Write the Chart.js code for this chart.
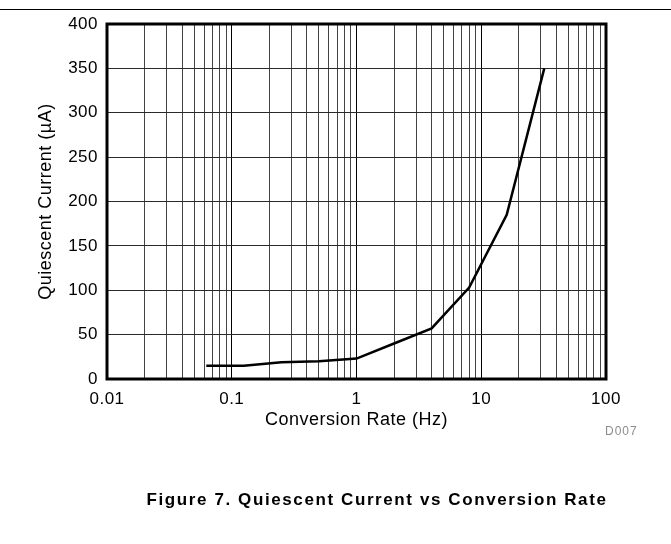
<!DOCTYPE html>
<html>
<head>
<meta charset="utf-8">
<script src="https://cdn.jsdelivr.net/npm/chart.js@4.4.0/dist/chart.umd.js"></script>
<style>
  body { margin: 0; background: #fff; }
  #wrap { position: relative; width: 671px; height: 544px; overflow: hidden; font-family: "Liberation Sans", Arial, sans-serif; }
  #topline { position: absolute; left: 0; top: 9px; width: 671px; height: 1px; background: #000; }
  #chart { position: absolute; left: 0; top: 0; }
  #code { position: absolute; left: 605px; top: 424px; font-size: 12px; letter-spacing: 1px; color: #8c8c8c; }
  #caption { position: absolute; left: 0; width: 754px; top: 490px; text-align: center; font-size: 17px; font-weight: bold; letter-spacing: 1.6px; color: #000; }
</style>
</head>
<body>
<div id="wrap">
  <div id="topline"></div>
  <canvas id="chart" width="671" height="544"></canvas>
  <div id="code">D007</div>
  <div id="caption">Figure 7. Quiescent Current vs Conversion Rate</div>
</div>
<script>
// measured curve
const rateHz = [0.0625, 0.125, 0.25, 0.5, 1, 2, 4, 8, 16, 32];
const currentUA = [15, 15, 19, 20, 23, 40, 57, 103, 185, 350];

// log axis grid: decades and the multiples in between
const xDecades = [0.01, 0.1, 1, 10, 100];
const xDecadeLabels = ['0.01', '0.1', '1', '10', '100'];
const xMultiples = [1, 2, 3, 4, 5, 6, 7, 8, 9];

const yMin = 0;
const yMax = 400;
const yStep = 50;

const FONT = '"Liberation Sans", Arial, sans-serif';

const gridValues = [];
xDecades.forEach((d, i) => {
  if (i === xDecades.length - 1) { gridValues.push(d); return; }
  xMultiples.forEach(m => gridValues.push(+(d * m).toPrecision(3)));
});

function isDecade(v) {
  return xDecades.some(d => Math.abs(d - v) / d < 1e-6);
}

const spacingPlugin = {
  id: 'spacing',
  beforeLayout(chart) { chart.ctx.letterSpacing = '0.5px'; },
  beforeDraw(chart) { chart.ctx.letterSpacing = '0.5px'; }
};

const framePlugin = {
  id: 'frame',
  afterDatasetsDraw(chart) {
    const { ctx, chartArea } = chart;
    ctx.save();
    ctx.strokeStyle = '#000';
    ctx.lineWidth = 3;
    ctx.strokeRect(chartArea.left, chartArea.top, chartArea.right - chartArea.left, chartArea.bottom - chartArea.top);
    ctx.restore();
  }
};

const ctx = document.getElementById('chart').getContext('2d');
new Chart(ctx, {
  type: 'line',
  data: {
    datasets: [{
      data: rateHz.map((r, i) => ({ x: r, y: currentUA[i] })),
      borderColor: '#000',
      borderWidth: 2.5,
      pointRadius: 0,
      tension: 0,
      fill: false
    }]
  },
  options: {
    responsive: false,
    animation: false,
    devicePixelRatio: 1,
    layout: { padding: { left: 35, top: 24, right: 65, bottom: 110 } },
    plugins: { legend: { display: false }, tooltip: { enabled: false } },
    scales: {
      x: {
        type: 'logarithmic',
        min: 0.01,
        max: 100,
        afterBuildTicks(scale) {
          scale.ticks = gridValues.map(v => ({ value: v, major: isDecade(v) }));
        },
        afterFit(scale) { scale.height = 55; },
        ticks: {
          autoSkip: false,
          maxRotation: 0,
          padding: 10,
          color: '#000',
          font: { family: FONT, size: 17 },
          callback(value) {
            const idx = xDecades.findIndex(d => Math.abs(d - value) / d < 1e-6);
            return idx >= 0 ? xDecadeLabels[idx] : '';
          }
        },
        grid: {
          drawTicks: false,
          lineWidth: 1,
          color(c) { return c.tick && isDecade(c.tick.value) ? '#000' : '#444'; }
        },
        border: { display: false },
        title: {
          display: true,
          text: 'Conversion Rate (Hz)',
          color: '#000',
          font: { family: FONT, size: 18 },
          padding: { top: 0, bottom: 3 }
        }
      },
      y: {
        min: yMin,
        max: yMax,
        afterFit(scale) { scale.width = 72; },
        ticks: {
          stepSize: yStep,
          padding: 9,
          color: '#000',
          font: { family: FONT, size: 17 }
        },
        grid: { drawTicks: false, lineWidth: 1, color: '#2a2a2a' },
        border: { display: false },
        title: {
          display: true,
          text: 'Quiescent Current (µA)',
          color: '#000',
          font: { family: FONT, size: 18 },
          padding: 0
        }
      }
    }
  },
  plugins: [spacingPlugin, framePlugin]
});
</script>
</body>
</html>
